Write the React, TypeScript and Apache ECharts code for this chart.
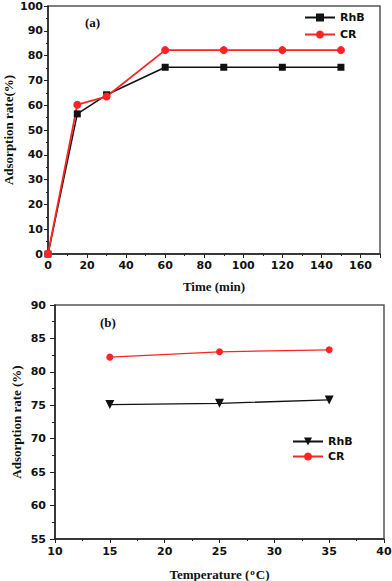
import React, { useEffect, useRef } from "react";
import * as echarts from "echarts";

// ---- data ----
const timeMin = [0, 15, 30, 60, 90, 120, 150];
const rhbTime = [0, 56.5, 64.2, 75.3, 75.3, 75.3, 75.3];
const crTime = [0, 60.2, 63.5, 82.2, 82.2, 82.2, 82.2];

const tempC = [15, 25, 35];
const rhbTemp = [75.1, 75.3, 75.8];
const crTemp = [82.2, 83.0, 83.3];

const RED = "#ff2424";
const tickFont = { fontFamily: "DejaVu Sans", fontWeight: "bold" as const, fontSize: 11, color: "#111" };
const titleFont = { fontFamily: "Liberation Serif", fontWeight: "bold" as const, fontSize: 13, color: "#111" };

function pairs(xs: number[], ys: number[]) {
  return xs.map((x, i) => [x, ys[i]]);
}

function axisBase(extra: any) {
  return {
    type: "value",
    nameMoveOverlap: false,
    axisLine: { show: true, lineStyle: { color: "#222", width: 1.5 } },
    splitLine: { show: false },
    minorTick: { show: true, splitNumber: 2, length: 2, lineStyle: { color: "#222", width: 1 } },
    ...extra,
  };
}

function topOption(): any {
  return {
    animation: false,
    grid: {
      left: 48, top: 6, width: 332, height: 248, show: true, borderColor: "#555", borderWidth: 1.5,
      containLabel: false, outerBoundsMode: "none",
    },
    xAxis: axisBase({
      min: 0, max: 170, interval: 20,
      axisTick: { length: 4, lineStyle: { color: "#222", width: 1 } },
      axisLabel: { ...tickFont, margin: 6, showMaxLabel: false, formatter: (v: number) => (v > 160 ? "" : String(v)) },
      name: "Time (min)", nameLocation: "middle", nameGap: 26, nameTextStyle: titleFont,
    }),
    yAxis: axisBase({
      min: 0, max: 100, interval: 10,
      axisTick: { length: 4, lineStyle: { color: "#222", width: 1 } },
      axisLabel: { ...tickFont, margin: 5 },
      name: "Adsorption rate(%)", nameLocation: "middle", nameGap: 33, nameTextStyle: titleFont,
    }),
    legend: {
      orient: "vertical", left: 304, top: 12, padding: 0, itemWidth: 30, itemHeight: 10, itemGap: 6,
      textStyle: { fontFamily: "DejaVu Sans", fontWeight: "bold", fontSize: 11, color: "#111" },
      data: ["RhB", "CR"],
    },
    graphic: [
      { type: "text", left: 85, top: 16, style: { text: "(a)", font: "bold 13px 'Liberation Serif'", fill: "#111" } },
    ],
    series: [
      {
        name: "RhB", type: "line", data: pairs(timeMin, rhbTime),
        symbol: "rect", symbolSize: 7,
        lineStyle: { color: "#111", width: 1.5 }, itemStyle: { color: "#111" },
      },
      {
        name: "CR", type: "line", data: pairs(timeMin, crTime),
        symbol: "circle", symbolSize: 8,
        lineStyle: { color: RED, width: 1.8 }, itemStyle: { color: RED },
      },
    ],
  };
}

function bottomOption(): any {
  return {
    animation: false,
    grid: {
      left: 55, top: 10, width: 329, height: 234, show: true, borderColor: "#555", borderWidth: 1.5,
      containLabel: false, outerBoundsMode: "none",
    },
    xAxis: axisBase({
      min: 10, max: 40, interval: 5,
      axisTick: { length: 4, lineStyle: { color: "#222", width: 1 } },
      axisLabel: { ...tickFont, margin: 7 },
      name: "{t|Temperature (}{s|o}{t|C)}", nameLocation: "middle", nameGap: 28,
      nameTextStyle: {
        ...titleFont,
        rich: {
          t: { ...titleFont },
          s: { ...titleFont, fontSize: 9, verticalAlign: "top", padding: [0, 1, 6, 1] },
        },
      },
    }),
    yAxis: axisBase({
      min: 55, max: 90, interval: 5,
      axisTick: { length: 5, lineStyle: { color: "#222", width: 1 } },
      axisLabel: { ...tickFont, margin: 9 },
      minorTick: { show: true, splitNumber: 2, length: 3, lineStyle: { color: "#222", width: 1 } },
      name: "Adsorption rate (%)", nameLocation: "middle", nameGap: 32, nameTextStyle: titleFont,
    }),
    legend: {
      orient: "vertical", left: 292, top: 141, padding: 0, itemWidth: 30, itemHeight: 10, itemGap: 4,
      textStyle: { fontFamily: "DejaVu Sans", fontWeight: "bold", fontSize: 11, color: "#111" },
      data: ["RhB", "CR"],
    },
    graphic: [
      { type: "text", left: 100, top: 21, style: { text: "(b)", font: "bold 13px 'Liberation Serif'", fill: "#111" } },
    ],
    series: [
      {
        name: "RhB", type: "line", data: pairs(tempC, rhbTemp),
        symbol: "triangle", symbolRotate: 180, symbolSize: 9,
        lineStyle: { color: "#111", width: 1.3 }, itemStyle: { color: "#111" },
      },
      {
        name: "CR", type: "line", data: pairs(tempC, crTemp),
        symbol: "circle", symbolSize: 7,
        lineStyle: { color: RED, width: 1.3 }, itemStyle: { color: RED },
      },
    ],
  };
}

export default function App() {
  const topRef = useRef<HTMLDivElement>(null);
  const botRef = useRef<HTMLDivElement>(null);
  useEffect(() => {
    const c1 = echarts.init(topRef.current!, undefined, { renderer: "svg" });
    c1.setOption(topOption());
    const c2 = echarts.init(botRef.current!, undefined, { renderer: "svg" });
    c2.setOption(bottomOption());
    return () => {
      c1.dispose();
      c2.dispose();
    };
  }, []);
  return (
    <div style={{ position: "fixed", left: 0, top: 0, width: 392, height: 581, background: "#fff" }}>
      <div ref={topRef} style={{ position: "absolute", left: 0, top: 0, width: 392, height: 295 }} />
      <div ref={botRef} style={{ position: "absolute", left: 0, top: 295, width: 392, height: 286 }} />
    </div>
  );
}
